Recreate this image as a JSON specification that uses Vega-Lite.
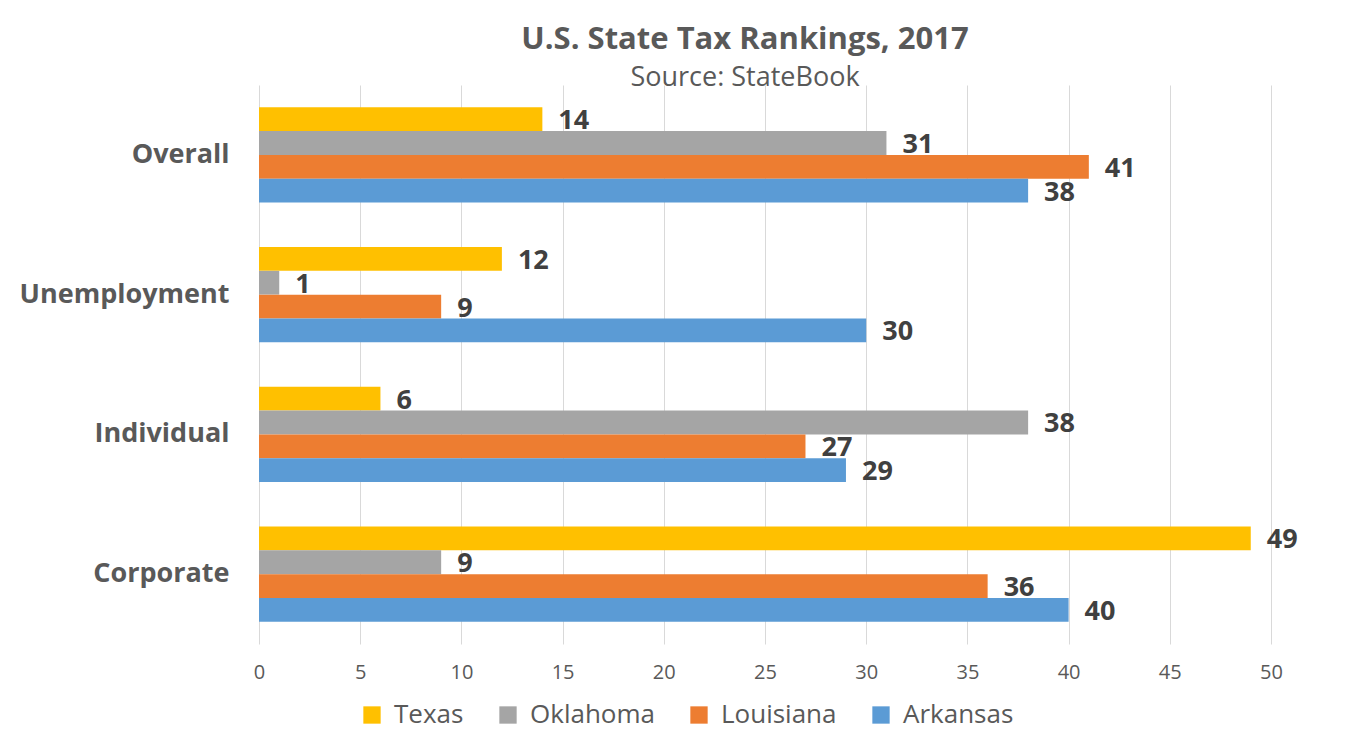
{
  "$schema": "https://vega.github.io/schema/vega-lite/v6.json",
  "autosize": "none",
  "width": 1012,
  "height": 559,
  "padding": {"left": 259, "top": 85, "right": 79, "bottom": 95},
  "background": "white",
  "title": {
    "text": "U.S. State Tax Rankings, 2017",
    "subtitle": "Source: StateBook",
    "anchor": "middle",
    "dx": -20,
    "offset": -7,
    "font": "Open Sans",
    "fontSize": 31,
    "fontWeight": "bold",
    "color": "#595959",
    "subtitleFont": "Open Sans",
    "subtitleFontSize": 27,
    "subtitleColor": "#595959",
    "subtitlePadding": 9
  },
  "data": {
    "values": [
      {"category": "Overall", "state": "Texas", "rank": 14},
      {"category": "Overall", "state": "Oklahoma", "rank": 31},
      {"category": "Overall", "state": "Louisiana", "rank": 41},
      {"category": "Overall", "state": "Arkansas", "rank": 38},
      {"category": "Unemployment", "state": "Texas", "rank": 12},
      {"category": "Unemployment", "state": "Oklahoma", "rank": 1},
      {"category": "Unemployment", "state": "Louisiana", "rank": 9},
      {"category": "Unemployment", "state": "Arkansas", "rank": 30},
      {"category": "Individual", "state": "Texas", "rank": 6},
      {"category": "Individual", "state": "Oklahoma", "rank": 38},
      {"category": "Individual", "state": "Louisiana", "rank": 27},
      {"category": "Individual", "state": "Arkansas", "rank": 29},
      {"category": "Corporate", "state": "Texas", "rank": 49},
      {"category": "Corporate", "state": "Oklahoma", "rank": 9},
      {"category": "Corporate", "state": "Louisiana", "rank": 36},
      {"category": "Corporate", "state": "Arkansas", "rank": 40}
    ]
  },
  "encoding": {
    "y": {
      "field": "category",
      "type": "nominal",
      "sort": ["Overall", "Unemployment", "Individual", "Corporate"],
      "scale": {"paddingInner": 0.32, "paddingOuter": 0.16},
      "axis": {
        "title": null,
        "domain": false,
        "ticks": false,
        "labelPadding": 30,
        "labelLimit": 400,
        "labelFont": "Open Sans",
        "labelFontSize": 27,
        "labelFontWeight": "bold",
        "labelColor": "#595959"
      }
    },
    "yOffset": {
      "field": "state",
      "type": "nominal",
      "sort": ["Texas", "Oklahoma", "Louisiana", "Arkansas"],
      "scale": {"paddingInner": 0, "paddingOuter": 0}
    },
    "x": {
      "field": "rank",
      "type": "quantitative",
      "scale": {"domain": [0, 50], "nice": false},
      "axis": {
        "title": null,
        "values": [0, 5, 10, 15, 20, 25, 30, 35, 40, 45, 50],
        "domain": false,
        "ticks": false,
        "grid": true,
        "gridColor": "#D9D9D9",
        "gridWidth": 1,
        "labelFlush": false,
        "labelPadding": 18,
        "labelFont": "Open Sans",
        "labelFontSize": 20,
        "labelColor": "#595959"
      }
    }
  },
  "layer": [
    {
      "mark": {"type": "bar"},
      "encoding": {
        "color": {
          "field": "state",
          "type": "nominal",
          "sort": ["Texas", "Oklahoma", "Louisiana", "Arkansas"],
          "scale": {
            "domain": ["Texas", "Oklahoma", "Louisiana", "Arkansas"],
            "range": ["#FFC000", "#A5A5A5", "#ED7D31", "#5B9BD5"]
          },
          "legend": {
            "title": null,
            "orient": "none",
            "direction": "horizontal",
            "legendX": 100,
            "legendY": 617,
            "symbolType": "square",
            "symbolSize": 300,
            "symbolStrokeWidth": 0,
            "labelFont": "Open Sans",
            "labelFontSize": 26,
            "labelColor": "#595959",
            "labelOffset": 9,
            "columnPadding": 31
          }
        }
      }
    },
    {
      "mark": {
        "type": "text",
        "align": "left",
        "baseline": "middle",
        "dx": 16,
        "dy": 2,
        "font": "Open Sans",
        "fontSize": 27,
        "fontWeight": "bold",
        "color": "#404040"
      },
      "encoding": {
        "text": {"field": "rank", "type": "quantitative"}
      }
    }
  ],
  "config": {
    "view": {"stroke": null}
  }
}
